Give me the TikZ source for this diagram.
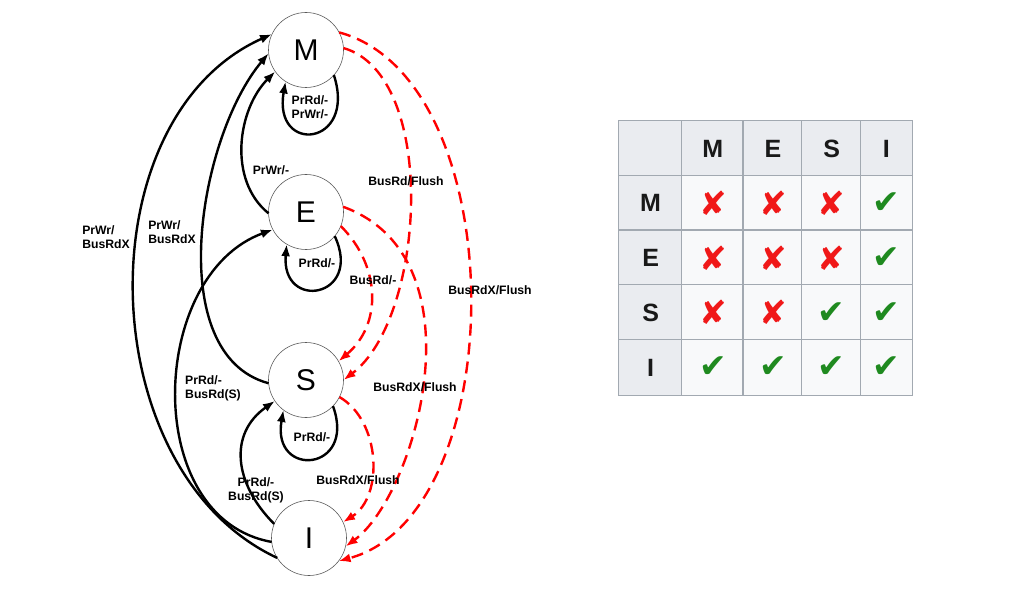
\documentclass[tikz,border=0pt]{standalone}
\usepackage{fontspec}
\setmainfont{Liberation Sans}
\newfontfamily\markfont{DejaVu Sans}
\usepackage{tikz}
\usetikzlibrary{positioning, arrows.meta, matrix}

\definecolor{cellgrey}{HTML}{EAECF0}
\definecolor{cellwhite}{HTML}{F8F9FA}
\definecolor{cellline}{HTML}{A2A9B1}
\definecolor{okgreen}{HTML}{1F8A1F}
\definecolor{badred}{HTML}{F01818}
\newcommand{\cmk}{\textcolor{okgreen}{✔}}
\newcommand{\xmk}{\textcolor{badred}{✘}}

\begin{document}
\begin{tikzpicture}[x=1pt, y=1pt,
    state/.style = {circle, draw=black!65, line width=0.6pt, minimum size=75pt,
                    inner sep=0pt, outer sep=0pt, font=\fontsize{30}{30}\selectfont},
    lbl/.style = {font=\fontsize{12.2}{14}\selectfont\bfseries, align=left, inner sep=1pt}
    ]
            % styles
            \tikzstyle{arrow} = [line width=2.4pt, -{Latex[length=12pt, width=9pt]}]
            \tikzstyle{snoop} = [arrow, draw=red, dash pattern=on 12pt off 7pt]

            \useasboundingbox (0,0) rectangle (1022,590);

            \node (M) [state] at (306,540) {M};
            \node (E) [state, below=87pt of M] {E};
            \node (S) [state, below=93pt of E] {S};
            \node (I) [state, below=83pt of S, xshift=3pt] {I};

            % processor side
            \draw [arrow] (I.212) to[out=155, in=204, distance=206pt] (M.155);
            \draw [arrow] (S.185) to[out=165, in=230, distance=110pt] (M.185);
            \draw [arrow] (I.186) to[out=170, in=200, distance=133pt] (E.208);
            \draw [arrow] (I.158) to[out=135, in=215, distance=57pt] (S.214);
            \draw [arrow] (E.182) to[out=141, in=225, distance=53pt] (M.215);
            \draw [arrow] (M.-42) to[out=-72, in=-100, distance=75pt] (M.237);
            \draw [arrow] (E.-40) to[out=-65, in=-95, distance=68pt] (E.239);
            \draw [arrow] (S.-44) to[out=-70, in=-100, distance=70pt] (S.233);

            % bus side
            \draw [snoop] (M.28) to[out=-15, in=15, distance=181pt] (I.-38);
            \draw [snoop] (M.3) to[out=-16, in=37, out distance=99pt, in distance=103pt] (S.0);
            \draw [snoop] (E.8) to[out=-20, in=36, out distance=150pt, in distance=87pt] (I.-13);
            \draw [snoop] (E.-22) to[out=-45, in=40, distance=57pt] (S.30);
            \draw [snoop] (S.-27) to[out=-30, in=32, distance=48pt] (I.25);

            \node (lMloop) [lbl] at (310,483) {PrRd/-\\PrWr/-};
            \node (lEloop) [lbl] at (317,327) {PrRd/-};
            \node (lSloop) [lbl] at (312,153) {PrRd/-};
            \node (lEM) [lbl] at (271,420) {PrWr/-};
            \node (lIM) [lbl] at (106,353) {PrWr/\\BusRdX};
            \node (lSM) [lbl] at (172,358) {PrWr/\\BusRdX};
            \node (lIE) [lbl] at (213,202) {PrRd/-\\BusRd(S)};
            \node (lIS) [lbl, align=center] at (256,100) {PrRd/-\\BusRd(S)};
            \node (lMS) [lbl] at (406,409) {BusRd/Flush};
            \node (lES) [lbl] at (373,310) {BusRd/-};
            \node (lMI) [lbl] at (490,300) {BusRdX/Flush};
            \node (lEI) [lbl] at (415,203) {BusRdX/Flush};
            \node (lSI) [lbl] at (358,110) {BusRdX/Flush};

            % compatibility table
            \matrix (tbl) [matrix of nodes, anchor=north west, inner sep=0pt, outer sep=0pt,
                column sep=-2.6pt, row sep=-2.6pt, nodes in empty cells,
                nodes={draw=cellline, line width=1.3pt, fill=cellwhite, anchor=center,
                       minimum height=56pt, inner sep=0pt, outer sep=0pt,
                       font=\markfont\fontsize{33}{33}\selectfont},
                row 1/.style={nodes={fill=cellgrey, text=black!90, font=\fontsize{25}{25}\selectfont\bfseries}},
                column 1/.style={nodes={fill=cellgrey, minimum width=64pt, text=black!90,
                                        font=\fontsize{25}{25}\selectfont\bfseries}},
                column 2/.style={nodes={minimum width=63pt}},
                column 3/.style={nodes={minimum width=60pt}},
                column 4/.style={nodes={minimum width=60pt}},
                column 5/.style={nodes={minimum width=52pt}}
                ] at (618,470) {
                  & M     & E     & S     & I     \\
                M & \xmk  & \xmk  & \xmk  & \cmk  \\
                E & \xmk  & \xmk  & \xmk  & \cmk  \\
                S & \xmk  & \xmk  & \cmk  & \cmk  \\
                I & \cmk  & \cmk  & \cmk  & \cmk  \\
            };
\end{tikzpicture}
\end{document}
